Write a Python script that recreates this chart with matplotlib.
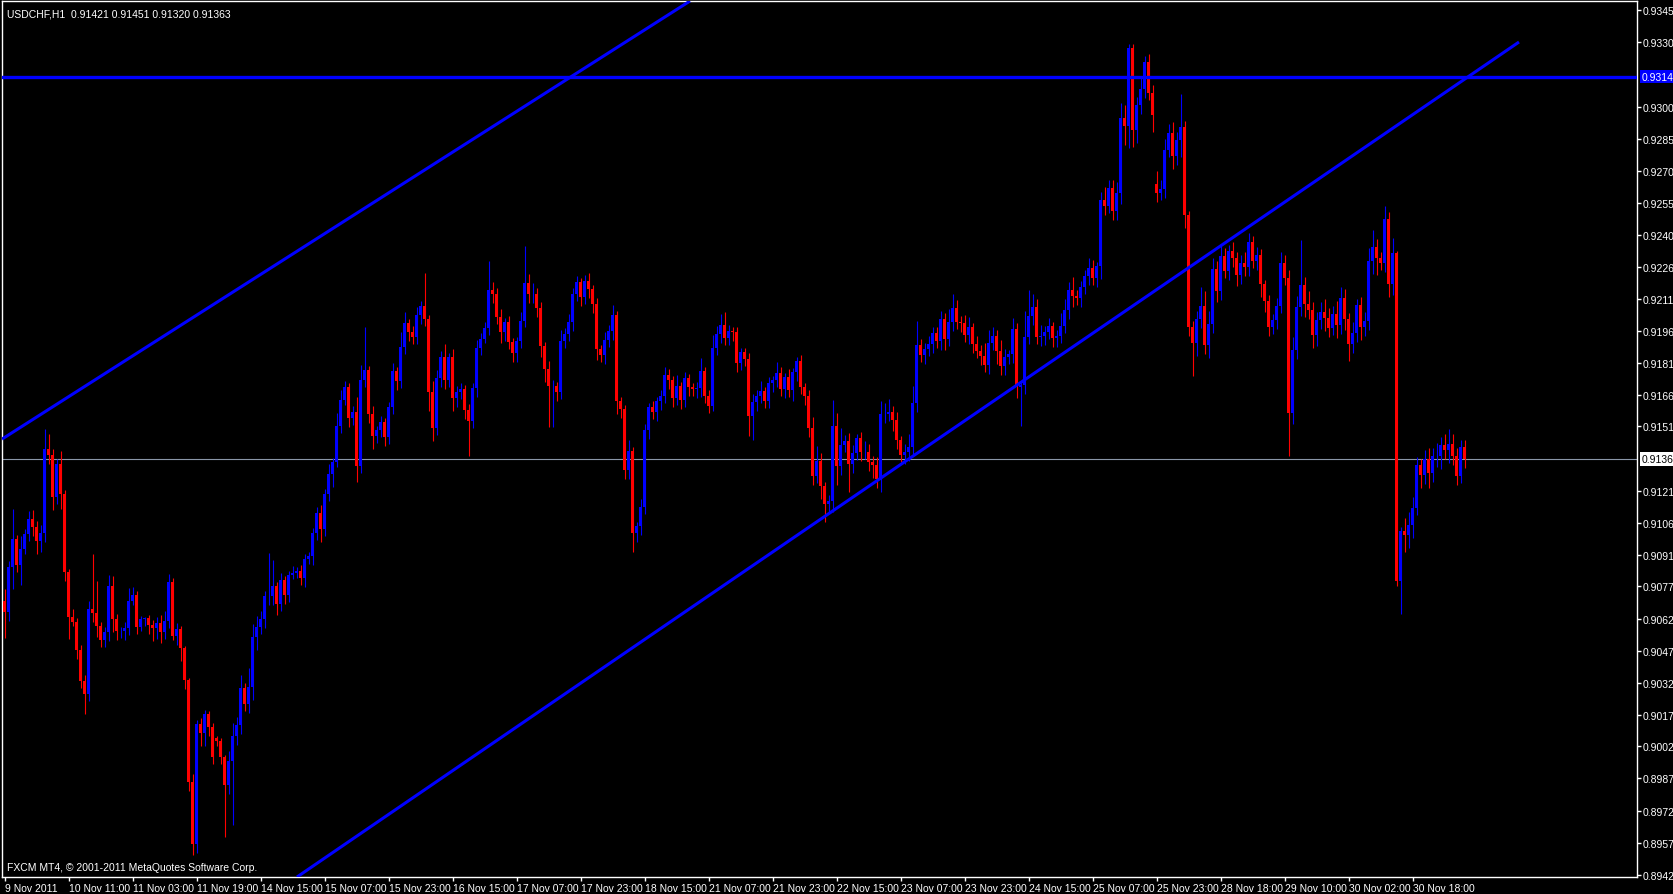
import matplotlib
matplotlib.use("Agg")
import matplotlib.pyplot as plt
import numpy as np

plt.rcParams['font.family'] = ['Liberation Sans', 'DejaVu Sans']

# USDCHF H1 candles, prices in points (1e-5)
closes = [
    90649, 90859, 90990, 90868, 90943, 91013, 91083, 91046, 90980, 91018,
    91409, 91381, 91185, 91339, 91199, 90836, 90626, 90603, 90472, 90328,
    90267, 90663, 90645, 90584, 90519, 90556, 90771, 90617, 90561, 90561,
    90575, 90701, 90729, 90580, 90617, 90622, 90589, 90575, 90598, 90556,
    90607, 90789, 90538, 90570, 90482, 90333, 89857, 89568, 90127, 90086,
    90174, 90114, 89974, 90048, 89974, 89843, 89955, 90072, 90123, 90295,
    90221, 90300, 90533, 90580, 90617, 90724, 90724, 90771, 90687, 90799,
    90729, 90822, 90831, 90840, 90808, 90896, 90910, 91018, 91111, 91036,
    91199, 91292, 91348, 91516, 91637, 91698, 91553, 91581, 91330, 91730,
    91777, 91572, 91470, 91497, 91535, 91465, 91605, 91772, 91726, 91884,
    91996, 91954, 91931, 92033, 92075, 92015, 91675, 91507, 91740, 91838,
    91730, 91838, 91647, 91675, 91689, 91591, 91539, 91693, 91880, 91922,
    91973, 92150, 92131, 92024, 91954, 92001, 91908, 91856, 91912, 92006,
    92183, 92131, 92131, 92066, 91889, 91782, 91703, 91703, 91675, 91912,
    91945, 92001, 92131, 92187, 92117, 92192, 92155, 92085, 91875, 91847,
    91917, 91959, 92033, 91633, 91595, 91311, 91400, 91018, 91050, 91139,
    91497, 91605, 91581, 91633, 91656, 91754, 91730, 91647, 91703, 91637,
    91740, 91698, 91689, 91693, 91772, 91656, 91609, 91880, 91945, 91987,
    91926, 91959, 91954, 91810, 91861, 91828, 91563, 91628, 91656, 91679,
    91633, 91717, 91730, 91763, 91689, 91744, 91684, 91768, 91819, 91698,
    91656, 91507, 91283, 91353, 91237, 91153, 91167, 91516, 91330, 91428,
    91446, 91339, 91390, 91460, 91395, 91395, 91348, 91334, 91269, 91572,
    91572, 91581, 91544, 91451, 91381, 91395, 91418, 91623, 91894, 91847,
    91875, 91898, 91950, 91912, 92015, 91922, 92001, 92066, 92001, 91996,
    91940, 91977, 91898, 91866, 91842, 91800, 91903, 91936, 91866, 91796,
    91838, 91852, 91968, 91698, 91707, 91931, 92029, 92071, 91931, 91936,
    91954, 91982, 91926, 91936, 91982, 92057, 92150, 92122, 92113, 92164,
    92215, 92252, 92206, 92262, 92569, 92541, 92625, 92518, 92602, 92951,
    92914, 93278, 92895, 93012, 93087, 93212, 93068, 92965, 92602, 92621,
    92802, 92882, 92774, 92849, 92909, 92499, 91977, 91903, 92015, 92075,
    91894, 91991, 92248, 92145, 92308, 92238, 92332, 92299, 92220, 92276,
    92257, 92374, 92285, 92313, 92178, 92099, 91977, 92010, 92075, 92276,
    92206, 91577, 91870, 92071, 92173, 92085, 92057, 91940, 92010, 92047,
    92019, 91973, 92038, 91987, 92113, 92015, 91898, 91950, 92080, 91977,
    92006, 92285, 92350, 92299, 92276, 92481, 92178, 92322, 90794, 91027,
    91008, 91055, 91134, 91334, 91288, 91363, 91297, 91376, 91376, 91428,
    91404, 91432, 91376, 91283, 91421, 91363,
]
first_open = 90700
gap_opens = {53: 90062, 288: 92644}

upper_wick = [
    60, 30, 140, 20, 60, 25, 40, 45, 30, 40,
    93, 70, 30, 25, 60, 20, 15, 40, 20, 25,
    30, 40, 260, 150, 20, 25, 50, 45, 25, 20,
    30, 60, 40, 20, 15, 5, 15, 25, 30, 40,
    50, 40, 20, 30, 15, 10, 10, 40, 20, 30,
    20, 15, 20, 10, 15, 10, 50, 60, 40, 60,
    25, 90, 60, 50, 40, 25, 200, 120, 20, 35,
    20, 20, 35, 20, 30, 25, 20, 25, 30, 40,
    25, 50, 20, 60, 50, 30, 20, 30, 70, 70,
    200, 20, 40, 20, 30, 20, 25, 40, 20, 70,
    50, 20, 30, 40, 25, 154, 20, 50, 40, 30,
    60, 20, 40, 30, 30, 20, 30, 25, 40, 30,
    30, 135, 40, 30, 40, 20, 30, 20, 20, 40,
    172, 40, 50, 30, 30, 20, 40, 30, 20, 50,
    30, 40, 30, 30, 20, 30, 40, 20, 30, 20,
    40, 30, 50, 20, 20, 20, 50, 20, 20, 40,
    30, 20, 30, 20, 30, 40, 30, 20, 50, 20,
    30, 20, 20, 30, 60, 20, 30, 60, 40, 50,
    60, 30, 20, 25, 20, 20, 30, 40, 30, 50,
    20, 30, 20, 50, 30, 20, 40, 20, 20, 30,
    20, 30, 50, 70, 40, 20, 30, 120, 60, 80,
    30, 40, 40, 20, 30, 50, 40, 30, 40, 60,
    50, 60, 30, 40, 20, 40, 60, 80, 112, 30,
    30, 40, 30, 30, 40, 30, 60, 65, 40, 30,
    40, 50, 20, 40, 30, 60, 60, 40, 30, 50,
    40, 20, 50, 30, 20, 120, 121, 60, 40, 50,
    30, 40, 20, 30, 60, 50, 40, 60, 30, 30,
    30, 50, 40, 20, 40, 60, 40, 40, 50, 70,
    60, 18, 20, 40, 50, 30, 40, 40, 60, 40,
    50, 40, 50, 40, 154, 30, 20, 30, 40, 90,
    70, 60, 50, 40, 50, 40, 30, 40, 30, 40,
    50, 40, 30, 40, 30, 20, 30, 30, 40, 50,
    40, 40, 60, 50, 210, 40, 60, 40, 40, 50,
    60, 50, 40, 60, 50, 40, 30, 50, 30, 40,
    40, 60, 80, 40, 30, 60, 33, 70, 10, 20,
    60, 60, 50, 40, 30, 40, 50, 40, 60, 40,
    50, 70, 50, 40, 30, 30,
]
lower_wick = [
    120, 40, 100, 30, 90, 20, 30, 40, 60, 50,
    40, 40, 60, 30, 70, 40, 100, 20, 40, 30,
    93, 30, 40, 50, 30, 30, 40, 60, 40, 30,
    40, 30, 20, 30, 20, 30, 40, 60, 50, 50,
    30, 30, 20, 40, 60, 40, 40, 50, 40, 60,
    60, 40, 30, 20, 30, 240, 40, 297, 40, 40,
    30, 40, 60, 60, 30, 40, 40, 40, 50, 30,
    40, 30, 20, 20, 30, 40, 20, 40, 30, 60,
    30, 30, 60, 20, 30, 20, 40, 30, 75, 30,
    30, 40, 60, 30, 30, 40, 30, 30, 40, 30,
    30, 40, 30, 30, 40, 30, 90, 60, 30, 40,
    40, 30, 60, 40, 30, 40, 163, 30, 40, 30,
    20, 30, 40, 30, 50, 40, 30, 40, 40, 30,
    30, 40, 40, 40, 50, 60, 190, 190, 40, 30,
    30, 30, 40, 30, 40, 30, 40, 40, 50, 30,
    40, 30, 40, 60, 40, 40, 40, 90, 40, 40,
    30, 40, 30, 40, 40, 30, 40, 40, 30, 40,
    30, 40, 30, 40, 40, 30, 30, 20, 30, 40,
    30, 30, 40, 40, 30, 30, 93, 110, 40, 30,
    30, 30, 40, 30, 30, 40, 30, 50, 40, 30,
    40, 40, 40, 30, 60, 84, 40, 50, 90, 40,
    30, 130, 40, 30, 40, 30, 40, 60, 40, 60,
    40, 30, 50, 40, 30, 40, 40, 40, 40, 30,
    40, 30, 40, 30, 40, 50, 30, 40, 30, 40,
    30, 40, 40, 30, 40, 30, 40, 30, 60, 40,
    40, 30, 40, 50, 180, 40, 30, 40, 30, 40,
    40, 30, 40, 40, 30, 30, 40, 50, 30, 40,
    30, 40, 30, 40, 60, 40, 30, 40, 40, 50,
    90, 100, 80, 60, 40, 40, 30, 80, 40, 30,
    40, 30, 60, 40, 80, 60, 40, 153, 60, 40,
    40, 60, 40, 50, 40, 30, 40, 40, 50, 40,
    40, 40, 30, 40, 60, 50, 40, 30, 40, 30,
    30, 200, 50, 40, 40, 60, 40, 60, 50, 40,
    60, 40, 30, 60, 40, 50, 80, 40, 40, 60,
    40, 40, 60, 80, 30, 40, 60, 50, 20, 154,
    80, 60, 60, 30, 60, 40, 70, 40, 50, 60,
    40, 60, 40, 40, 30, 43,
]

x_labels = ["9 Nov 2011", "10 Nov 11:00", "11 Nov 03:00", "11 Nov 19:00", "14 Nov 15:00",
            "15 Nov 07:00", "15 Nov 23:00", "16 Nov 15:00", "17 Nov 07:00", "17 Nov 23:00",
            "18 Nov 15:00", "21 Nov 07:00", "21 Nov 23:00", "22 Nov 15:00", "23 Nov 07:00",
            "23 Nov 23:00", "24 Nov 15:00", "25 Nov 07:00", "25 Nov 23:00", "28 Nov 18:00",
            "29 Nov 10:00", "30 Nov 02:00", "30 Nov 18:00"]
x_label_pos = [16 * k for k in range(len(x_labels))]
y_labels = [0.93455, 0.93305, 0.93005, 0.92855, 0.92705, 0.92555, 0.92405, 0.92260,
            0.92110, 0.91960, 0.91810, 0.91660, 0.91515, 0.91215, 0.91065, 0.90915,
            0.90770, 0.90620, 0.90470, 0.90320, 0.90170, 0.90025, 0.89875, 0.89725,
            0.89575, 0.89425]

hline_price = 0.93144
last_price = 0.91363
# trend lines: (bar index, price) endpoints
upper_line = [(-0.75, 0.91456), (171.25, 0.93497)]
lower_line = [(73.0, 0.89416), (378.5, 0.93306)]

c = np.array(closes) / 1e5
o = np.empty_like(c)
o[0] = first_open / 1e5
o[1:] = c[:-1]
for k, v in gap_opens.items():
    o[k] = v / 1e5
top = np.maximum(o, c)
bot = np.minimum(o, c)
hi = top + np.array(upper_wick) / 1e5
lo = bot - np.array(lower_wick) / 1e5
idx = np.arange(len(c))
colors = np.where(c >= o, "#0000ff", "#ff0000")

fig = plt.figure(figsize=(16.74, 8.95), dpi=100, facecolor="black")
ax = fig.add_axes([2 / 1674, 1 - 878 / 895, 1635 / 1674, 876 / 895], facecolor="black")

ax.vlines(idx, lo, hi, colors=colors, linewidth=0.8, zorder=2)
ax.bar(idx, np.maximum(top - bot, 0.00002), bottom=bot, width=0.75, color=colors,
       linewidth=0, zorder=3)

ax.axhline(last_price, color="#8a96a8", linewidth=0.8, zorder=1)
ax.axhline(hline_price, color="#0000ff", linewidth=2.4, zorder=4)
for seg in (upper_line, lower_line):
    ax.plot([seg[0][0], seg[1][0]], [seg[0][1], seg[1][1]], color="#0000ff",
            linewidth=2.2, zorder=4, solid_capstyle="butt")

ax.set_xlim(-0.75, 408)
ax.set_ylim(0.89416, 0.93497)

for sp in ax.spines.values():
    sp.set_color("white")
    sp.set_linewidth(1)

ax.yaxis.tick_right()
ax.set_yticks(y_labels)
ax.set_yticklabels([f"{v:.5f}" for v in y_labels])
ax.set_xticks(x_label_pos)
ax.set_xticklabels(x_labels, ha="left")
ax.tick_params(colors="white", labelcolor="white", labelsize=7.5, length=3, width=1, pad=1)

# price markers on the scale
ax.text(1.003, hline_price, f"{hline_price:.5f}", transform=ax.get_yaxis_transform(),
        color="white", fontsize=7.5, va="center", ha="left",
        bbox=dict(facecolor="#0000ff", edgecolor="none", pad=1.2))
ax.text(1.003, last_price, f"{last_price:.5f}", transform=ax.get_yaxis_transform(),
        color="black", fontsize=7.5, va="center", ha="left",
        bbox=dict(facecolor="white", edgecolor="none", pad=1.2))

ax.text(0.003, 0.992, "USDCHF,H1  0.91421 0.91451 0.91320 0.91363", transform=ax.transAxes,
        color="white", fontsize=7.5, va="top", ha="left")
ax.text(0.003, 0.006, "FXCM MT4, \u00a9 2001-2011 MetaQuotes Software Corp.", transform=ax.transAxes,
        color="white", fontsize=7.5, va="bottom", ha="left")

fig.savefig("out.png", dpi=100, facecolor="black")
